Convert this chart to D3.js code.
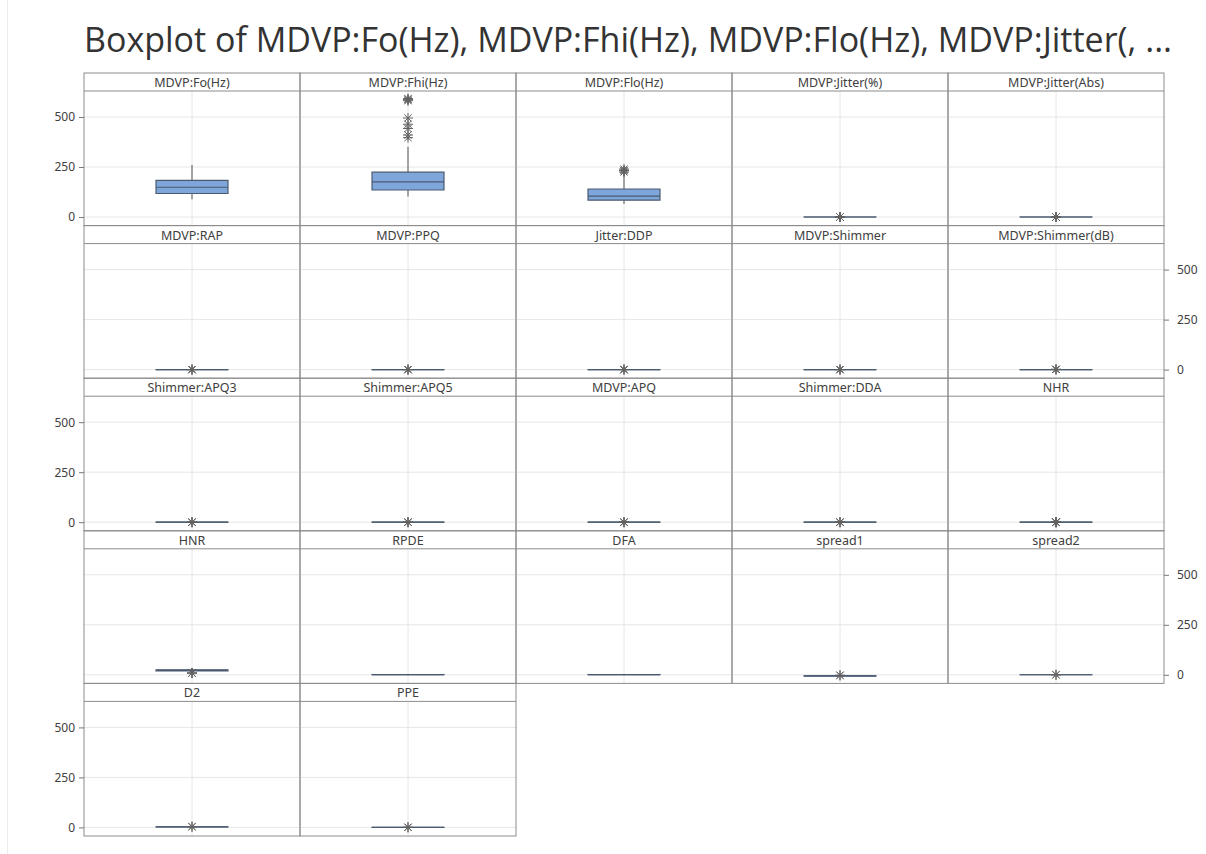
<!DOCTYPE html>
<html>
<head>
  <meta charset="utf-8">
  <script src="https://d3js.org/d3.v7.min.js"></script>
  <style>
    body { margin: 0; background: #fff; }
    svg { display: block; }
  </style>
</head>
<body>
<script type="text/javascript">
  "use strict";

  // variables in panel order (5 per row, last row has 2)
  var variables = ["MDVP:Fo(Hz)", "MDVP:Fhi(Hz)", "MDVP:Flo(Hz)", "MDVP:Jitter(%)", "MDVP:Jitter(Abs)",
    "MDVP:RAP", "MDVP:PPQ", "Jitter:DDP", "MDVP:Shimmer", "MDVP:Shimmer(dB)",
    "Shimmer:APQ3", "Shimmer:APQ5", "MDVP:APQ", "Shimmer:DDA", "NHR",
    "HNR", "RPDE", "DFA", "spread1", "spread2",
    "D2", "PPE"];

  var q1s = [117.6, 134.9, 84.3, 0.0035, 0.00002, 0.0017, 0.0019, 0.0050, 0.0165, 0.148,
    0.0083, 0.0091, 0.0133, 0.0249, 0.0059, 19.2, 0.421, 0.675, -6.45, 0.174, 2.099, 0.137];
  var medians = [148.8, 175.8, 104.3, 0.0049, 0.00003, 0.0025, 0.0027, 0.0075, 0.0230, 0.221,
    0.0128, 0.0135, 0.0183, 0.0384, 0.0117, 22.1, 0.496, 0.722, -5.72, 0.219, 2.362, 0.194];
  var q3s = [182.8, 224.2, 140.0, 0.0074, 0.00006, 0.0038, 0.0040, 0.0115, 0.0379, 0.350,
    0.0203, 0.0222, 0.0295, 0.0608, 0.0256, 25.1, 0.588, 0.762, -5.05, 0.279, 2.636, 0.253];
  var lowWhiskers = [88.3, 102.1, 65.5, 0.0017, 0.00001, 0.0007, 0.0009, 0.0020, 0.0095, 0.085,
    0.0046, 0.0057, 0.0072, 0.0136, 0.0007, 10.5, 0.257, 0.574, -7.96, 0.040, 1.423, 0.045];
  var highWhiskers = [260.1, 351.0, 214.0, 0.0131, 0.00013, 0.0071, 0.0079, 0.0214, 0.0696, 0.652,
    0.0373, 0.0418, 0.0521, 0.1118, 0.0532, 33.0, 0.685, 0.825, -3.44, 0.436, 3.413, 0.427];
  var outliers = [
    [],
    [592.0, 588.5, 586.6, 581.3, 495.0, 463.7, 442.6, 410.0, 396.6],
    [239.2, 232.5, 232.4, 225.2],
    [0.0331, 0.0270, 0.0190, 0.0160, 0.0150],
    [0.00026, 0.00022, 0.00016, 0.00014],
    [0.0214, 0.0167, 0.0101],
    [0.0196, 0.0156, 0.0105],
    [0.0643, 0.0502, 0.0302],
    [0.119, 0.0951, 0.0872],
    [1.302, 1.018, 0.866],
    [0.0565, 0.0452, 0.0403],
    [0.0794, 0.0650, 0.0499],
    [0.138, 0.0869, 0.0733],
    [0.1694, 0.1357, 0.1210],
    [0.3148, 0.2630, 0.2160, 0.1650, 0.1100, 0.0870],
    [8.44, 8.87, 9.35],
    [],
    [],
    [-2.43, -2.84],
    [0.4505, 0.0063],
    [3.671, 3.52],
    [0.527, 0.454]
  ];

  var yTicks = [0, 250, 500];
  var titleText = "Boxplot of MDVP:Fo(Hz), MDVP:Fhi(Hz), MDVP:Flo(Hz), MDVP:Jitter(, ...";

  // layout
  var width = 1206, height = 854;
  var gridLeft = 84, gridTop = 73;
  var colW = 216, rowH = 152.6, stripH = 18, nCols = 5;
  var boxW = 72;

  var svg = d3.select("body")
    .append("svg")
      .attr("width", width)
      .attr("height", height);

  // faint window edge at left
  svg.append("line")
    .attr("x1", 7.5).attr("x2", 7.5)
    .attr("y1", 0).attr("y2", height)
    .style("stroke", "#ececec");

  svg.append("text")
    .attr("x", gridLeft)
    .attr("y", 52)
    .attr("textLength", 1088)
    .attr("lengthAdjust", "spacingAndGlyphs")
    .style("font-family", "'Open Sans', 'Noto Sans', sans-serif")
    .style("font-size", "34px")
    .style("fill", "#333")
    .text(titleText);

  var font = "'Noto Sans', 'Open Sans', sans-serif";

  // asterisk symbol used by the outliers
  function star(r) {
    var d = r * 0.72;
    return "M" + (-r) + ",0H" + r +
      "M0," + (-r) + "V" + r +
      "M" + (-d) + "," + (-d) + "L" + d + "," + d +
      "M" + (-d) + "," + d + "L" + d + "," + (-d);
  }

  variables.forEach(function (name, i) {
    var row = Math.floor(i / nCols), col = i % nCols;
    var x0 = gridLeft + col * colW, y0 = gridTop + row * rowH;
    var cx = x0 + colW / 2;

    var y = d3.scaleLinear()
      .domain([-43, 630])
      .range([y0 + rowH, y0 + stripH]);

    var g = svg.append("g");

    // gridlines
    g.selectAll("line.hgrid")
      .data(yTicks)
      .enter()
      .append("line")
        .attr("x1", x0).attr("x2", x0 + colW)
        .attr("y1", function (d) { return y(d); })
        .attr("y2", function (d) { return y(d); })
        .style("stroke", "#e6e6e6");

    g.append("line")
      .attr("x1", cx).attr("x2", cx)
      .attr("y1", y0 + stripH).attr("y2", y0 + rowH)
      .style("stroke", "#e6e6e6");

    // whiskers
    g.append("line")
      .attr("x1", cx).attr("x2", cx)
      .attr("y1", y(q3s[i])).attr("y2", y(highWhiskers[i]))
      .style("stroke", "#555");
    g.append("line")
      .attr("x1", cx).attr("x2", cx)
      .attr("y1", y(q1s[i])).attr("y2", y(lowWhiskers[i]))
      .style("stroke", "#555");

    // box (as a path so a zero-height box still shows as a line)
    var bx0 = cx - boxW / 2, bx1 = cx + boxW / 2;
    g.append("path")
      .attr("d", "M" + bx0 + "," + y(q3s[i]) + "H" + bx1 + "V" + y(q1s[i]) + "H" + bx0 + "Z")
      .style("fill", "#7ea6da")
      .style("stroke", "#4d5b6e")
      .style("stroke-width", 1.2);

    g.append("line")
      .attr("x1", bx0).attr("x2", bx1)
      .attr("y1", y(medians[i])).attr("y2", y(medians[i]))
      .style("stroke", "#4a5870")
      .style("stroke-width", 1.2);

    // outliers
    g.selectAll("path.out")
      .data(outliers[i])
      .enter()
      .append("path")
        .attr("transform", function (d) { return "translate(" + cx + "," + y(d) + ")"; })
        .attr("d", star(5))
        .style("fill", "none")
        .style("stroke", "#606060")
        .style("stroke-width", 1);

    // panel frame and strip
    g.append("rect")
      .attr("x", x0).attr("y", y0)
      .attr("width", colW).attr("height", rowH)
      .style("fill", "none")
      .style("stroke", "#8c8c8c");
    g.append("line")
      .attr("x1", x0).attr("x2", x0 + colW)
      .attr("y1", y0 + stripH).attr("y2", y0 + stripH)
      .style("stroke", "#8c8c8c");

    g.append("text")
      .attr("x", cx)
      .attr("y", y0 + 14)
      .attr("text-anchor", "middle")
      .style("font-family", font)
      .style("font-size", "12.5px")
      .style("fill", "#404040")
      .text(name);

    // axes alternate left / right by row
    if (col === 0 && row % 2 === 0) {
      var axL = d3.axisLeft(y).tickValues(yTicks).tickSize(5).tickPadding(4);
      svg.append("g")
        .attr("transform", "translate(" + x0 + ",0)")
        .call(axL)
        .call(function (a) { a.select(".domain").remove(); })
        .call(function (a) {
          a.selectAll("line").style("stroke", "#777");
          a.selectAll("text").style("font-family", font).style("font-size", "12px").style("fill", "#404040");
        });
    }
    if (col === nCols - 1 && row % 2 === 1) {
      var axR = d3.axisRight(y).tickValues(yTicks).tickSize(5).tickPadding(8);
      svg.append("g")
        .attr("transform", "translate(" + (x0 + colW) + ",0)")
        .call(axR)
        .call(function (a) { a.select(".domain").remove(); })
        .call(function (a) {
          a.selectAll("line").style("stroke", "#777");
          a.selectAll("text").style("font-family", font).style("font-size", "12px").style("fill", "#404040");
        });
    }
  });
</script>
</body>
</html>
